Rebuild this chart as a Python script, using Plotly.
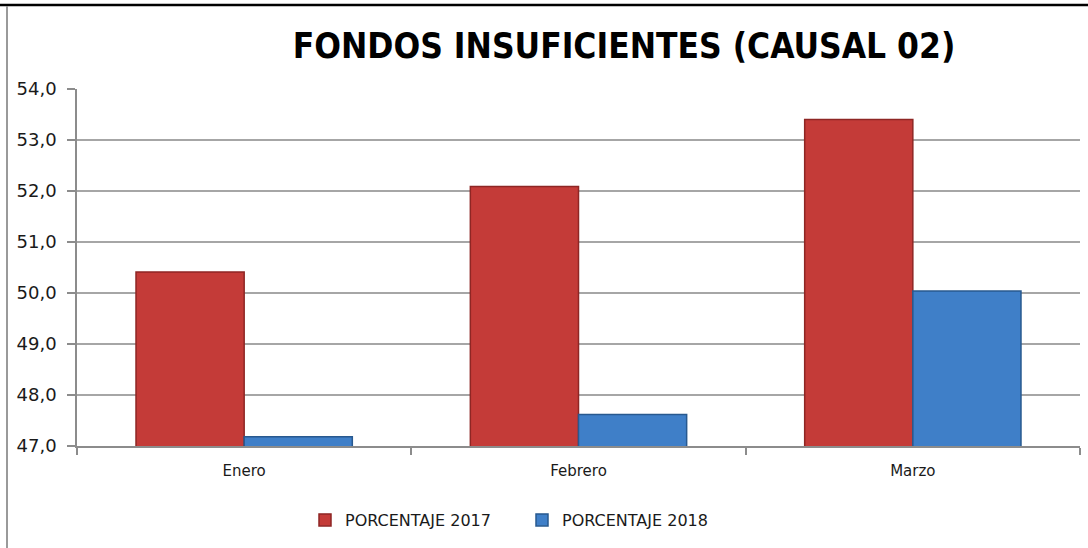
import plotly.graph_objects as go

# data
meses = ["Enero", "Febrero", "Marzo"]
pct_2017 = [50.41, 52.09, 53.40]
pct_2018 = [47.18, 47.62, 50.04]

W, H = 1088, 548
L, R, T, B = 77, 8, 89, 102  # plot area 77..1080 x 89..446


def px(x):
    return (x - L) / (W - L - R)


def py(y):
    return (H - B - y) / (H - T - B)


fig = go.Figure()

fig.add_trace(go.Bar(
    x=meses, y=pct_2017, name="PORCENTAJE 2017",
    marker=dict(color="#C43B38", line=dict(color="#8E2624", width=1.5)),
))
fig.add_trace(go.Bar(
    x=meses, y=pct_2018, name="PORCENTAJE 2018",
    marker=dict(color="#3F7FC8", line=dict(color="#28598F", width=1.5)),
))

# frame fragments (top black line, left grey line)
fig.add_shape(type="line", xref="paper", yref="paper",
              x0=px(0), x1=px(W), y0=py(5), y1=py(5),
              line=dict(color="black", width=2.5))
fig.add_shape(type="line", xref="paper", yref="paper",
              x0=px(7), x1=px(7), y0=py(6), y1=py(H),
              line=dict(color="#9A9A9A", width=2))

fig.update_layout(
    width=W, height=H,
    margin=dict(l=L, r=R, t=T, b=B),
    paper_bgcolor="white", plot_bgcolor="white",
    separators=",.",
    barmode="group", bargap=0.353, bargroupgap=0,
    title=dict(
        text="<b>FONDOS INSUFICIENTES (CAUSAL 02)</b>",
        x=624 / W, xanchor="center",
        y=1 - 46 / H, yanchor="middle", yref="container",
        font=dict(family="DejaVu Sans Condensed, Arial Narrow",
                  size=35, color="black"),
    ),
    font=dict(family="DejaVu Sans, Verdana", color="#1a1a1a"),
    legend=dict(
        orientation="h", x=px(305), xanchor="left",
        y=py(520), yanchor="middle",
        font=dict(size=16, color="#1a1a1a"),
        itemwidth=30, traceorder="normal",
        entrywidth=172,
    ),
    showlegend=True,
)

fig.update_yaxes(
    range=[47, 54], dtick=1, tickformat=".1f",
    showgrid=True, gridcolor="#A6A6A6", gridwidth=1.5,
    showline=True, linecolor="#8C8C8C", linewidth=1.5,
    ticks="outside", ticklen=8, tickcolor="#8C8C8C", tickwidth=1.5,
    tickfont=dict(size=18, color="#1a1a1a"),
    ticklabelstandoff=7,
    zeroline=False,
)
fig.update_xaxes(
    showline=True, linecolor="#8C8C8C", linewidth=1.5,
    ticks="outside", tickson="boundaries", ticklen=7,
    tickcolor="#8C8C8C", tickwidth=1.5,
    tickfont=dict(size=15, color="#1a1a1a"),
    ticklabelstandoff=10,
)

# the page body has a default 8px margin; drop it so the figure sits at 0,0
fig.write_html("out.html", config={"displayModeBar": False},
               post_script="document.body.style.margin='0';")
